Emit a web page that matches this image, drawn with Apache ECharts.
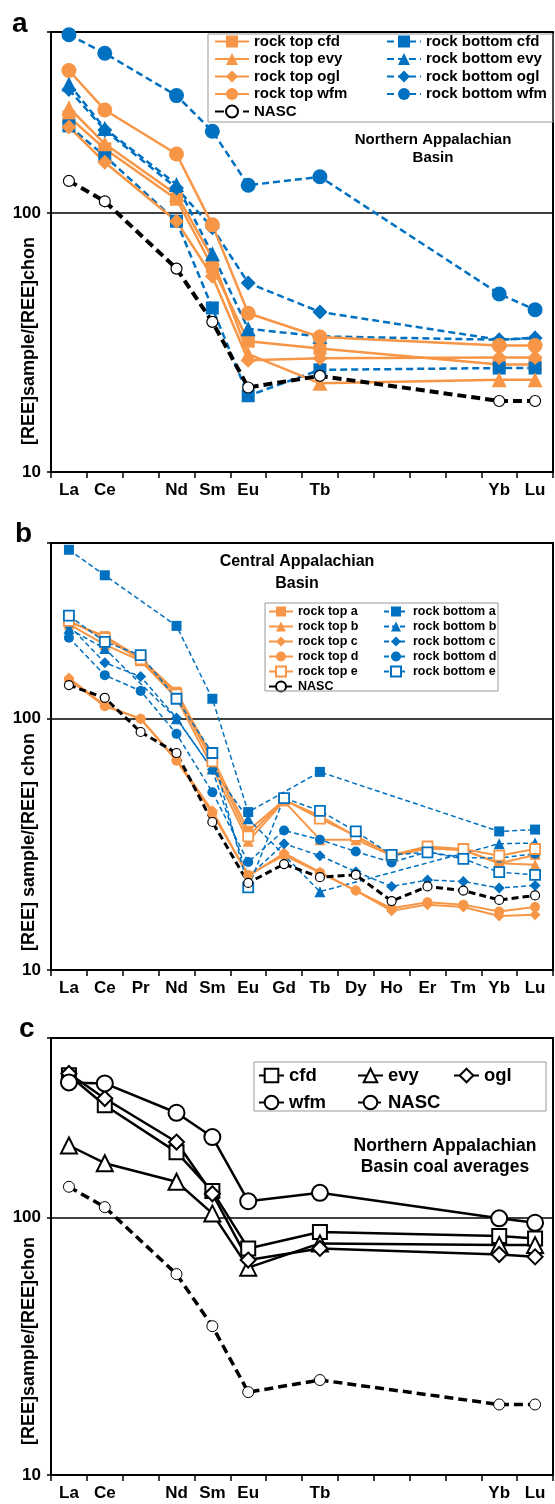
<!DOCTYPE html>
<html>
<head>
<meta charset="utf-8">
<title>REE patterns</title>
<script src="https://cdn.jsdelivr.net/npm/echarts@6/dist/echarts.min.js"></script>
<style>
html, body { margin: 0; padding: 0; background: #fff; }
#chart { width: 555px; height: 1504px; }
</style>
</head>
<body>
<div id="chart"></div>
<script>
// categories
const elements = ["La", "Ce", "Pr", "Nd", "Sm", "Eu", "Gd", "Tb", "Dy", "Ho", "Er", "Tm", "Yb", "Lu"];
const labelsShortSet = ["La", "Ce", "Nd", "Sm", "Eu", "Tb", "Yb", "Lu"];
const yTickLabels = [10, 100];

// panel a - Northern Appalachian Basin
const aTopCfd = [235, 177, null, 113, 62, 32, null, 30, null, null, null, null, 26, 26];
const aBotCfd = [217, 166, null, 93, 43, 19.7, null, 24.8, null, null, null, null, 25.2, 25.2];
const aTopEvy = [255, 185, null, 118, 67, 28.5, null, 22, null, null, null, null, 22.7, 22.7];
const aBotEvy = [315, 212, null, 129, 69.6, 35.7, null, 33.4, null, null, null, null, 32.4, 33];
const aTopOgl = [215, 157, null, 93, 57, 27, null, 27.5, null, null, null, null, 27.7, 27.7];
const aBotOgl = [300, 209, null, 125, 87.7, 53.7, null, 41.5, null, null, null, null, 32.4, 32.9];
const aTopWfm = [355, 250, null, 169, 90, 41, null, 33.2, null, null, null, null, 30.8, 30.8];
const aBotWfm = [488, 414, null, 284, 207, 128, null, 138, null, null, null, null, 48.7, 42.3];
const aNasc = [133, 111, null, 61, 38, 21.2, null, 23.5, null, null, null, null, 18.8, 18.8];

// panel b - Central Appalachian Basin
const bTopA = [243, 213, 174, 128, 70, 35.8, 47.5, 41, 34, 28.5, 30.5, 30, 26.6, 28.7];
const bBotA = [470, 372, null, 234, 120, 42.5, null, 61.4, null, null, null, null, 35.6, 36.2];
const bTopB = [238, 197, 170, 121, 64, 32.5, 47, 33, 33, 28.5, 30.5, 30, 26.6, 26.2];
const bBotB = [228, 190, null, 100, 63, 40, null, 20.5, null, null, null, null, 31.8, 32];
const bTopC = [145, 113, 99.7, 68.7, 43, 23.6, 29.2, 24.5, 20.7, 17.2, 18.2, 17.8, 16.4, 16.6];
const bBotC = [235, 167, 147, 100.6, 62.7, 23.5, 31.8, 28.5, 24.6, 21.5, 22.8, 22.5, 21.2, 21.7];
const bTopD = [143, 112, 100, 68, 42, 23.9, 28.6, 24.4, 20.7, 17.6, 18.6, 18.2, 17.1, 17.8];
const bBotD = [210, 149, 129, 87, 51, 26.9, 35.9, 33, 29.6, 26.8, 29.5, 28, 27.9, 29];
const bTopE = [245, 209, 172, 125, 67.6, 34, 47.6, 40, 34.2, 28.7, 31, 30.3, 28.5, 30.3];
const bBotE = [257, 202, 179, 120, 73, 21.3, 48.3, 43, 35.6, 28.7, 29.4, 27.7, 24.5, 23.9];
const bNasc = [136, 121, 88.5, 73, 38.8, 22.2, 26.4, 23.4, 23.9, 18.8, 21.5, 20.7, 19.0, 19.8];

// panel c - coal averages
const cCfd = [358, 274, null, 180, 127, 76, null, 88, null, null, null, null, 85, 83];
const cEvy = [191, 163, null, 138, 104, 64, null, 79.5, null, null, null, null, 78.3, 78.3];
const cOgl = [364, 291, null, 197, 124, 68.5, null, 76, null, null, null, null, 72, 70.5];
const cWfm = [336, 333, null, 256, 206, 116, null, 125, null, null, null, null, 99.5, 95.6];
const cNasc = [132, 110, null, 60.4, 37.9, 21, null, 23.4, null, null, null, null, 18.8, 18.8];

const FONT = '"Liberation Sans", Arial, Helvetica, sans-serif';
const ORANGE = "#F79646";
const BLUE = "#0070C0";

const grids = [
  { left: 51, right: 2, top: 32, height: 440 },
  { left: 51, right: 2, top: 543, height: 427 },
  { left: 51, right: 2, top: 1038, height: 437 }
];

function xAxisFor(i, shown) {
  return {
    type: "category",
    gridIndex: i,
    data: elements,
    boundaryGap: true,
    axisLine: { lineStyle: { color: "#000", width: 2 } },
    axisTick: { show: true, interval: 0, length: 6, lineStyle: { color: "#000", width: 1.5 } },
    axisLabel: {
      interval: 0,
      margin: 10,
      color: "#000",
      fontSize: 17,
      fontWeight: "bold",
      fontFamily: FONT,
      formatter: (v) => (shown.indexOf(v) >= 0 ? v : "")
    },
    splitLine: { show: false }
  };
}

function yAxisFor(i) {
  return {
    type: "log",
    logBase: 10,
    gridIndex: i,
    min: 10,
    max: 500,
    axisLine: { show: true, lineStyle: { color: "#000", width: 2 } },
    axisTick: { show: true, length: 4, lineStyle: { color: "#000", width: 1.5 } },
    axisLabel: {
      margin: 10,
      color: "#000",
      fontSize: 17,
      fontWeight: "bold",
      fontFamily: FONT,
      formatter: (v) => {
        const hit = yTickLabels.find((t) => Math.abs(t - v) < 1e-6);
        return hit ? String(hit) : "";
      }
    },
    splitLine: { show: true, lineStyle: { color: "#000", width: 1.5 } }
  };
}

function line(name, data, idx, st) {
  return {
    name: name,
    type: "line",
    data: data,
    xAxisIndex: idx,
    yAxisIndex: idx,
    connectNulls: true,
    showAllSymbol: true,
    symbol: st.symbol,
    symbolSize: st.size,
    lineStyle: { color: st.color, width: st.width, type: st.dash || "solid" },
    itemStyle: st.hollow
      ? { color: "#fff", borderColor: st.color, borderWidth: st.bw || 2 }
      : { color: st.color, borderWidth: 0 },
    emphasis: { disabled: true },
    animation: false
  };
}

const dashA = [7, 4];
const dashB = [5, 3];
const series = [
  // panel a
  line("rock top cfd", aTopCfd, 0, { color: ORANGE, width: 2.5, symbol: "rect", size: 13 }),
  line("rock bottom cfd", aBotCfd, 0, { color: BLUE, width: 2.5, dash: dashA, symbol: "rect", size: 13 }),
  line("rock top evy", aTopEvy, 0, { color: ORANGE, width: 2.5, symbol: "triangle", size: 15 }),
  line("rock bottom evy", aBotEvy, 0, { color: BLUE, width: 2.5, dash: dashA, symbol: "triangle", size: 15 }),
  line("rock top ogl", aTopOgl, 0, { color: ORANGE, width: 2.5, symbol: "diamond", size: 15 }),
  line("rock bottom ogl", aBotOgl, 0, { color: BLUE, width: 2.5, dash: dashA, symbol: "diamond", size: 15 }),
  line("rock top wfm", aTopWfm, 0, { color: ORANGE, width: 2.5, symbol: "circle", size: 15 }),
  line("rock bottom wfm", aBotWfm, 0, { color: BLUE, width: 2.5, dash: dashA, symbol: "circle", size: 15 }),
  line("NASC", aNasc, 0, { color: "#000", width: 4, dash: [9, 5], symbol: "circle", size: 11, hollow: true, bw: 1.2 }),
  // panel b
  line("rock top a", bTopA, 1, { color: ORANGE, width: 2, symbol: "rect", size: 10 }),
  line("rock bottom a", bBotA, 1, { color: BLUE, width: 1.5, dash: dashB, symbol: "rect", size: 10 }),
  line("rock top b", bTopB, 1, { color: ORANGE, width: 2, symbol: "triangle", size: 11 }),
  line("rock bottom b", bBotB, 1, { color: BLUE, width: 1.5, dash: dashB, symbol: "triangle", size: 11 }),
  line("rock top c", bTopC, 1, { color: ORANGE, width: 2, symbol: "diamond", size: 11 }),
  line("rock bottom c", bBotC, 1, { color: BLUE, width: 1.5, dash: dashB, symbol: "diamond", size: 11 }),
  line("rock top d", bTopD, 1, { color: ORANGE, width: 2, symbol: "circle", size: 10 }),
  line("rock bottom d", bBotD, 1, { color: BLUE, width: 1.5, dash: dashB, symbol: "circle", size: 10 }),
  line("rock top e", bTopE, 1, { color: ORANGE, width: 2, symbol: "rect", size: 10, hollow: true, bw: 1.8 }),
  line("rock bottom e", bBotE, 1, { color: BLUE, width: 1.5, dash: dashB, symbol: "rect", size: 10, hollow: true, bw: 1.8 }),
  line("NASC", bNasc, 1, { color: "#000", width: 3, dash: [7, 4], symbol: "circle", size: 9, hollow: true, bw: 1.2 }),
  // panel c
  line("cfd", cCfd, 2, { color: "#000", width: 2.5, symbol: "rect", size: 14, hollow: true, bw: 2 }),
  line("evy", cEvy, 2, { color: "#000", width: 2.5, symbol: "triangle", size: 16, hollow: true, bw: 2 }),
  line("ogl", cOgl, 2, { color: "#000", width: 2.5, symbol: "diamond", size: 15, hollow: true, bw: 2 }),
  line("wfm", cWfm, 2, { color: "#000", width: 2.5, symbol: "circle", size: 16, hollow: true, bw: 2 }),
  line("NASC", cNasc, 2, { color: "#000", width: 3.5, dash: [9, 5], symbol: "circle", size: 11, hollow: true, bw: 1 })
];

function legendCol(names, left, top, o) {
  return {
    data: names,
    orient: "vertical",
    left: left,
    top: top,
    padding: 0,
    itemWidth: o.w,
    itemHeight: o.h,
    itemGap: o.gap,
    selectedMode: false,
    textStyle: { color: "#000", fontSize: o.fs, fontWeight: "bold", fontFamily: FONT }
  };
}

const legA = { w: 34, h: 15, gap: 2.5, fs: 15 };
const legB = { w: 24, h: 12.5, gap: 2, fs: 12.5 };
const legC = { w: 25, h: 17, gap: 8, fs: 18.5 };
const legends = [
  legendCol(["rock top cfd", "rock top evy", "rock top ogl", "rock top wfm", "NASC"], 214, 34, legA),
  legendCol(["rock bottom cfd", "rock bottom evy", "rock bottom ogl", "rock bottom wfm"], 386, 34, legA),
  legendCol(["rock top a", "rock top b", "rock top c", "rock top d", "rock top e", "NASC"], 268, 605, legB),
  legendCol(["rock bottom a", "rock bottom b", "rock bottom c", "rock bottom d", "rock bottom e"], 383, 605, legB),
  legendCol(["cfd", "wfm"], 258, 1066, legC),
  legendCol(["evy", "NASC"], 357, 1066, legC),
  legendCol(["ogl"], 453, 1066, legC)
];

function txt(text, x, y, size, opts) {
  opts = opts || {};
  return {
    type: "text",
    x: x,
    y: y,
    rotation: opts.rotation || 0,
    z: 100,
    style: {
      text: text,
      font: "bold " + size + "px " + FONT,
      fill: "#000",
      textAlign: opts.align || "center",
      textVerticalAlign: "middle",
      lineHeight: opts.lh || size * 1.2
    }
  };
}

function box(x, y, w, h) {
  return { type: "rect", z: 5, shape: { x: x, y: y, width: w, height: h }, style: { fill: "none", stroke: "#999", lineWidth: 1 } };
}

const graphics = [
  txt("a", 12, 24, 28, { align: "left" }),
  txt("b", 15, 534, 28, { align: "left" }),
  txt("c", 19, 1029, 28, { align: "left" }),
  txt("[REE]sample/[REE]chon", 29, 341, 18, { rotation: Math.PI / 2 }),
  txt("[REE] sample/[REE] chon", 29, 842, 18, { rotation: Math.PI / 2 }),
  txt("[REE]sample/[REE]chon", 29, 1341, 18, { rotation: Math.PI / 2 }),
  txt("Northern Appalachian\nBasin", 433, 149, 15, { lh: 18 }),
  txt("Central Appalachian\nBasin", 297, 573, 16, { lh: 22 }),
  txt("Northern Appalachian\nBasin coal averages", 445, 1157, 17.5, { lh: 21 }),
  box(208, 34, 345, 88),
  box(265, 603, 233, 88),
  box(254, 1062, 292, 49)
];

const chart = echarts.init(document.getElementById("chart"), null, { renderer: "canvas" });
chart.setOption({
  animation: false,
  backgroundColor: "#fff",
  grid: grids.map((g) => Object.assign({ show: true, borderColor: "#000", borderWidth: 2, backgroundColor: "transparent" }, g)),
  xAxis: [xAxisFor(0, labelsShortSet), xAxisFor(1, elements), xAxisFor(2, labelsShortSet)],
  yAxis: [yAxisFor(0), yAxisFor(1), yAxisFor(2)],
  legend: legends,
  graphic: graphics,
  series: series
});
</script>
</body>
</html>
